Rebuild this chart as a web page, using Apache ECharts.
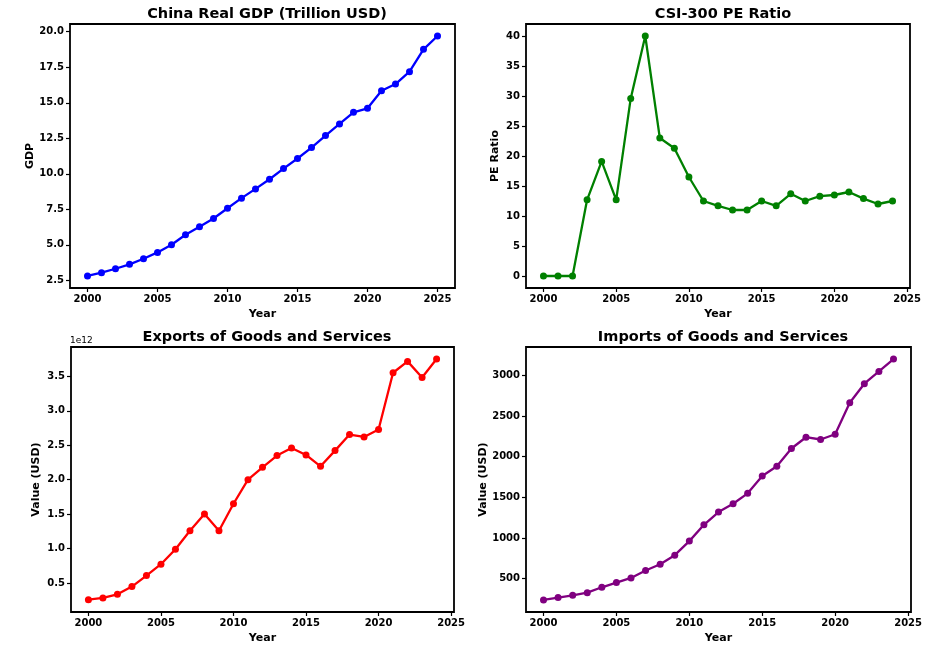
<!DOCTYPE html>
<html>
<head>
<meta charset="utf-8">
<script src="https://cdn.jsdelivr.net/npm/echarts@6/dist/echarts.min.js"></script>
<style>
  html, body { margin: 0; padding: 0; background: #fff; }
  #main { width: 942px; height: 651px; }
</style>
</head>
<body>
<div id="main"></div>
<script>
// data
var gdpYears = [2000, 2001, 2002, 2003, 2004, 2005, 2006, 2007, 2008, 2009, 2010, 2011, 2012,
                2013, 2014, 2015, 2016, 2017, 2018, 2019, 2020, 2021, 2022, 2023, 2024, 2025];
var gdp = [2.81, 3.04, 3.32, 3.63, 4.02, 4.47, 5.01, 5.71, 6.27, 6.86, 7.58, 8.29, 8.94,
           9.62, 10.37, 11.08, 11.85, 12.69, 13.51, 14.33, 14.61, 15.85, 16.32, 17.19, 18.76, 19.70];

var years = [2000, 2001, 2002, 2003, 2004, 2005, 2006, 2007, 2008, 2009, 2010, 2011, 2012,
             2013, 2014, 2015, 2016, 2017, 2018, 2019, 2020, 2021, 2022, 2023, 2024];
var pe = [0, 0, 0, 12.7, 19.1, 12.7, 29.6, 40.0, 23.0, 21.3, 16.5, 12.5, 11.7,
          11.0, 11.0, 12.5, 11.7, 13.7, 12.5, 13.3, 13.5, 14.0, 12.9, 12.0, 12.5];
// exports in units of 1e12 USD
var exportsE12 = [0.257, 0.282, 0.335, 0.447, 0.607, 0.772, 0.99, 1.257, 1.5, 1.257, 1.65, 2.0, 2.18,
                  2.35, 2.461, 2.359, 2.194, 2.422, 2.655, 2.621, 2.728, 3.553, 3.718, 3.485, 3.752];
var imports = [237, 266, 294, 327, 393, 451, 508, 599, 677, 788, 961, 1162, 1318,
               1421, 1549, 1762, 1882, 2100, 2239, 2211, 2276, 2663, 2897, 3049, 3201];

var yearTicks = [2000, 2005, 2010, 2015, 2020, 2025];
var gdpTicks = [2.5, 5.0, 7.5, 10.0, 12.5, 15.0, 17.5, 20.0];
var peTicks = [0, 5, 10, 15, 20, 25, 30, 35, 40];
var exportTicks = [0.5, 1.0, 1.5, 2.0, 2.5, 3.0, 3.5];
var importTicks = [500, 1000, 1500, 2000, 2500, 3000];

var myChart = echarts.init(document.getElementById('main'));
var font = 'DejaVu Sans';

function pairs(xs, ys) {
    return xs.map(function (x, i) { return [x, ys[i]]; });
}

function xAx(idx, min, max) {
    return {
        type: 'value', gridIndex: idx, min: min, max: max,
        name: 'Year', nameLocation: 'middle', nameGap: 21,
        nameTextStyle: { fontFamily: font, fontWeight: 'bold', fontSize: 11, color: '#000' },
        axisLine: { show: false, onZero: false },
        axisTick: { show: true, length: 4, lineStyle: { color: '#000', width: 1.2 }, customValues: yearTicks },
        axisLabel: { fontFamily: font, fontWeight: 'bold', fontSize: 10, color: '#000', margin: 6,
                     customValues: yearTicks, formatter: function (v) { return String(v); } },
        splitLine: { show: false }
    };
}

function yAx(idx, min, max, name, ticks, gap, fmt) {
    return {
        type: 'value', gridIndex: idx, min: min, max: max,
        name: name, nameLocation: 'middle', nameGap: gap, nameRotate: 90,
        nameTextStyle: { fontFamily: font, fontWeight: 'bold', fontSize: 11, color: '#000' },
        axisLine: { show: false, onZero: false },
        axisTick: { show: true, length: 4, lineStyle: { color: '#000', width: 1.2 }, customValues: ticks },
        axisLabel: { fontFamily: font, fontWeight: 'bold', fontSize: 10, color: '#000', margin: 6,
                     customValues: ticks, formatter: fmt },
        splitLine: { show: false }
    };
}

function line(idx, data, color) {
    return {
        type: 'line', xAxisIndex: idx, yAxisIndex: idx, data: data,
        symbol: 'circle', symbolSize: 7, showSymbol: true,
        lineStyle: { color: color, width: 2.3 },
        itemStyle: { color: color },
        animation: false
    };
}

var titleStyle = { fontFamily: font, fontWeight: 'bold', fontSize: 14.5, color: '#000' };
var gridBase = { show: true, borderColor: '#000', borderWidth: 1.8, backgroundColor: 'transparent' };

var option = {
    backgroundColor: '#fff',
    title: [
        { text: 'China Real GDP (Trillion USD)', left: 262, top: 2, textAlign: 'center', textStyle: titleStyle },
        { text: 'CSI-300 PE Ratio', left: 718, top: 2, textAlign: 'center', textStyle: titleStyle },
        { text: 'Exports of Goods and Services', left: 262, top: 325, textAlign: 'center', textStyle: titleStyle },
        { text: 'Imports of Goods and Services', left: 718, top: 325, textAlign: 'center', textStyle: titleStyle }
    ],
    graphic: [
        { type: 'text', left: 70, top: 336, style: { text: '1e12', fontFamily: font, fontSize: 9, fill: '#000' } }
    ],
    grid: [
        Object.assign({ left: 70, top: 24, width: 385, height: 264 }, gridBase),
        Object.assign({ left: 526, top: 24, width: 384, height: 264 }, gridBase),
        Object.assign({ left: 71, top: 347, width: 383, height: 265 }, gridBase),
        Object.assign({ left: 526, top: 347, width: 385, height: 265 }, gridBase)
    ],
    xAxis: [
        xAx(0, 1998.75, 2026.25),
        xAx(1, 1998.8, 2025.2),
        xAx(2, 1998.8, 2025.2),
        xAx(3, 1998.8, 2025.2)
    ],
    yAxis: [
        yAx(0, 1.965, 20.545, 'GDP', gdpTicks, 33, function (v) { return v.toFixed(1); }),
        yAx(1, -2, 42, 'PE Ratio', peTicks, 25, function (v) { return String(v); }),
        yAx(2, 0.078, 3.927, 'Value (USD)', exportTicks, 29, function (v) { return v.toFixed(1); }),
        yAx(3, 89, 3349, 'Value (USD)', importTicks, 37, function (v) { return String(v); })
    ],
    series: [
        line(0, pairs(gdpYears, gdp), '#0000ff'),
        line(1, pairs(years, pe), '#008000'),
        line(2, pairs(years, exportsE12), '#ff0000'),
        line(3, pairs(years, imports), '#800080')
    ]
};
myChart.setOption(option);
</script>
</body>
</html>
